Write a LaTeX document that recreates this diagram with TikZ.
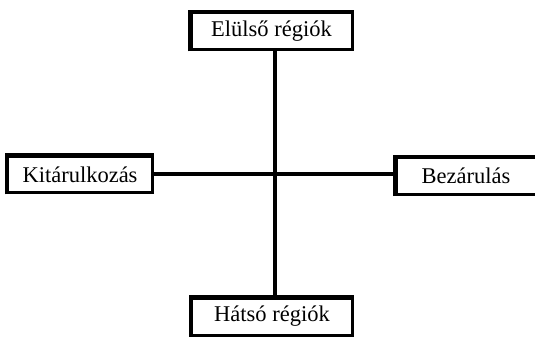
\documentclass[tikz,border=0pt]{standalone}
\usepackage{fontspec}
\setmainfont{Liberation Serif}
\begin{document}
\begin{tikzpicture}[x=1pt,y=-1pt,
        region/.style={draw,line width=3pt,inner sep=0pt,outer sep=0pt,font=\fontsize{22.5}{26}\selectfont}]
        \useasboundingbox (0,0) rectangle (535,337);
        \node[region,minimum width=161pt,minimum height=37pt] (front) at (271.5,31.5) {Elülső régiók};
        \node[region,minimum width=161pt,minimum height=37pt] (back) at (272,316.5) {Hátsó régiók};
        \node[region,minimum width=144.5pt,minimum height=36.5pt] (open) at (80,174.5) {Kitárulkozás};
        \node[region,minimum width=140pt,minimum height=37pt] (close) at (466,176) {Bezárulás};
        % heavier left and top edges
        \foreach \n in {front,back,open,close}
            \draw[line width=2.5pt] ([xshift=-1.75pt,yshift=-1.5pt]\n.south west) -- ([xshift=-1.75pt,yshift=1.75pt]\n.north west) -- ([xshift=1.5pt,yshift=1.75pt]\n.north east);
        \coordinate (mid) at (275,174);
        \draw[line width=4pt] (front.south -| mid) -- (back.north -| mid);
        \draw[line width=4pt] (open.east |- mid) -- (close.west |- mid);
    \end{tikzpicture}
\end{document}
